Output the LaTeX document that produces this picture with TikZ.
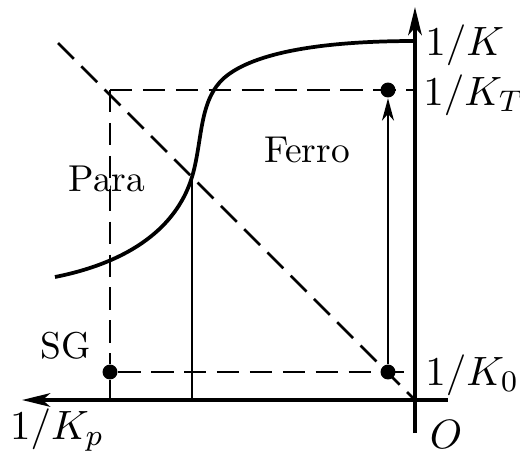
\documentclass[tikz,border=0pt]{standalone}
\usepackage{amsmath}
\usetikzlibrary{arrows.meta}

\begin{document}
\begin{tikzpicture}[x=26.74pt, y=26.74pt,
  axis/.style={line width=1.1pt, -{Stealth[length=7.5pt, width=3.6pt, inset=2pt]}},
  guide/.style={line width=0.7pt, dash pattern=on 6pt off 2.8pt},
  bound/.style={line width=1pt},
  stem/.style={line width=0.7pt},
  dot/.style={circle, fill, inner sep=0pt, minimum size=4pt},
  level/.style={font=\fontsize{11.2}{14}\selectfont, inner sep=1.5pt},
  region/.style={font=\normalsize}]
\useasboundingbox (-4.15,-0.54) rectangle (1.05,4.00);
% axes
\coordinate (O) at (0,0);
\coordinate (ytop) at (0,3.93);
\coordinate (ybot) at (0,-0.33);
\coordinate (xleft) at (-3.93,0);
\coordinate (xright) at (0.33,0);
\draw[axis] (ybot) -- (ytop);
\draw[axis] (xright) -- (xleft);
% levels
\coordinate (kp) at (-3.05,0);
\coordinate (tl) at (-3.05,3.10);
\coordinate (tr) at (0,3.10);
\coordinate (br) at (0,0.28);
\coordinate (diag) at (-3.57,3.57);
\node[dot] (sg) at (-3.05,0.28) {};
\node[dot] (k0) at (-0.27,0.28) {};
\node[dot] (kt) at (-0.27,3.10) {};
\draw[guide] (diag) -- (O);
\draw[guide] (tl) -- (tr);
\draw[guide] (tl) -- (sg);
\draw[guide] (sg) -- (br);
\draw[stem] (sg) -- (kp);
% phase boundary
\coordinate (start) at (-3.60,1.23);
\coordinate (cross) at (-2.23,2.23);
\coordinate (knee) at (-1.95,3.18);
\coordinate (top) at (0,3.59);
\draw[bound] (start) .. controls (-2.75,1.40) and (-2.36,1.80) .. (cross)
  .. controls (-2.13,2.56) and (-2.16,2.95) .. (knee)
  .. controls (-1.75,3.40) and (-1.20,3.59) .. (top);
\draw[stem] (cross) -- (cross |- O);
% jump
\draw[line width=0.55pt, -{Stealth[length=6pt, width=3.2pt, inset=1.8pt]}] (k0) -- (kt.south);
% labels
\node[level, anchor=west] (lk) at (0.04,3.55) {$1/K$};
\node[level, anchor=west] (lkt) at (0.02,3.05) {$1/K_T$};
\node[level, anchor=west] (lk0) at (0.04,0.25) {$1/K_0$};
\node[level] (lkp) at (-3.58,-0.30) {$1/K_p$};
\node[level] (lo) at (0.31,-0.34) {$O$};
\node[region] (para) at (-3.08,2.21) {Para};
\node[region] (ferro) at (-1.08,2.50) {Ferro};
\node[region] (sglbl) at (-3.49,0.54) {SG};
\end{tikzpicture}
\end{document}
